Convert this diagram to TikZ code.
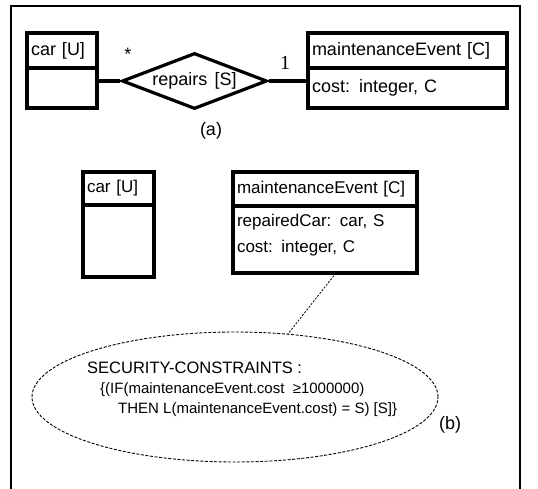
\documentclass[tikz,border=0pt]{standalone}
\usepackage{fontspec}
\setmainfont{Liberation Sans}
\newfontfamily\numfont{Liberation Serif}
\usetikzlibrary{shapes.geometric}
\usetikzlibrary{positioning}
\newcommand\erfont{\fontsize{18}{22}\selectfont\spaceskip=0.4em\relax}
\newcommand\bfont{\fontsize{17}{21}\selectfont\spaceskip=0.38em\relax}
\newcommand\hdfont{\fontsize{16.5}{20}\selectfont}
\newcommand\scfont{\fontsize{15}{18}\selectfont}
\tikzstyle{hdr}=[draw,line width=3.2pt,anchor=north west,outer sep=0pt,inner xsep=4pt,inner ysep=0pt,align=left,font=\erfont]
\tikzstyle{rel}=[draw,diamond,aspect=2.6,line width=3.2pt,inner sep=0pt,minimum width=145pt,minimum height=56pt,font=\erfont]
\tikzstyle{note}=[draw,ellipse,line width=0.9pt,dash pattern=on 3pt off 1.6pt,minimum width=406pt,minimum height=130pt]

\begin{document}
\begin{tikzpicture}[x=1pt,y=-1pt]
	\useasboundingbox (0,0) rectangle (538,489);
	\draw [line width=1.3pt] (11,489) -- (11,6) -- (520,6) -- (520,489);
	\node [hdr,text width=62pt,minimum height=35pt] (carA) at (27,33) {car [U]};
	\node [hdr,text width=62pt,minimum height=40pt] (carAbody) at (carA.south west) {};
	\node [hdr,text width=191pt,minimum height=35pt] (maintA) at (308,33) {maintenanceEvent [C]};
	\node [hdr,text width=191pt,minimum height=40pt] (maintAbody) at (maintA.south west) {cost: integer, C};
	\node [rel] (repairs) at (194.5,81) {repairs [S]};
	\draw [line width=3.2pt] (repairs.west -| carAbody.east) -- (repairs.west);
	\draw [line width=3.2pt] (repairs.east) -- (repairs.east -| maintAbody.west);
	\node [font=\erfont] (manyEnd) at (128,54) {*};
	\node [font=\numfont\fontsize{20}{20}\selectfont] (oneEnd) at (285,63) {1};
	\node [font=\erfont] (capA) at (211,131) {(a)};
	\node [hdr,font=\bfont,text width=63pt,minimum height=33pt] (carB) at (83,172) {car [U]};
	\node [hdr,text width=63pt,minimum height=72pt] (carBbody) at (carB.south west) {};
	\node [hdr,font=\bfont,text width=176pt,minimum height=34pt] (maintB) at (233,172) {maintenanceEvent [C]};
	\node [hdr,font=\bfont,text width=176pt,minimum height=67pt,text height=13pt,text depth=40pt] (maintBbody) at (maintB.south west) {repairedCar: car, S\\[5pt]cost: integer, C};
	\node [note] (secNote) at (235,397) {};
	\draw [line width=0.8pt,dash pattern=on 2pt off 1.5pt] ([xshift=11pt]maintBbody.south) -- (secNote.50);
	\node [anchor=west,inner sep=0pt,font=\hdfont] (secHead) at (87,368) {SECURITY-CONSTRAINTS :};
	\node [anchor=west,inner sep=0pt,font=\scfont] (secIf) at (100,390) {\{(IF(maintenanceEvent.cost\ \ ≥1000000)};
	\node [anchor=west,inner sep=0pt,font=\scfont] (secThen) at (118,410) {THEN L(maintenanceEvent.cost) = S) [S]\}};
	\node [font=\erfont] (capB) at (450,425) {(b)};
\end{tikzpicture}
\end{document}
